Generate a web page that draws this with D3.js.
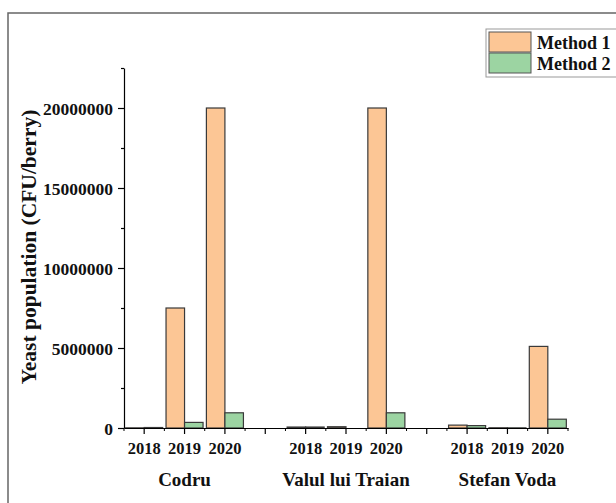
<!DOCTYPE html>
<html><head><meta charset="utf-8">
<script src="https://cdn.jsdelivr.net/npm/d3@7"></script>
<style>body{margin:0;background:#fff;} text{font-family:"Liberation Serif","Times New Roman",serif;font-weight:bold;fill:#111;}</style>
</head><body>
<script>
const sites = ["Codru", "Valul lui Traian", "Stefan Voda"];
const years = ["2018", "2019", "2020"];
const methods = ["Method 1", "Method 2"];
const method1 = [[10000, 7500000, 20000000], [60000, 80000, 20000000], [180000, 15000, 5100000]];
const method2 = [[30000, 350000, 950000], [60000, 0, 950000], [150000, 10000, 550000]];
const yTicks = [0, 5000000, 10000000, 15000000, 20000000];
const yMinor = [2500000, 7500000, 12500000, 17500000, 22500000];
const colors = ["#FCC695", "#9CD4A2"];

(function () {
const W = 616, H = 503;
const svg = d3.select("body").append("svg").attr("width", W).attr("height", H);

// outer frame
svg.append("rect").attr("x", 8).attr("y", 13).attr("width", W).attr("height", H)
  .attr("fill", "none").attr("stroke", "#666").attr("stroke-width", 1.5);

const pl = 124, pr = 568, pt = 68, pb = 428;

// slots: 3 years per site + gap slot between sites
const slots = [];
sites.forEach((s, si) => {
  years.forEach(y => slots.push(s + "|" + y));
  if (si < sites.length - 1) slots.push("gap" + si);
});
const x = d3.scaleBand().domain(slots).range([pl, pr]).paddingInner(0).paddingOuter(0);
const xm = d3.scaleBand().domain(methods).range([0, x.bandwidth()]).paddingInner(0).paddingOuter(0.09);
const y = d3.scaleLinear().domain([0, 22500000]).range([pb, pt]);

const rows = [];
sites.forEach((s, si) => years.forEach((yr, yi) => {
  rows.push({slot: s + "|" + yr, method: methods[0], v: method1[si][yi], c: colors[0]});
  rows.push({slot: s + "|" + yr, method: methods[1], v: method2[si][yi], c: colors[1]});
}));

svg.append("g").selectAll("rect").data(rows).join("rect")
  .attr("x", d => x(d.slot) + xm(d.method))
  .attr("y", d => y(d.v))
  .attr("width", xm.bandwidth())
  .attr("height", d => pb - y(d.v))
  .attr("fill", d => d.c)
  .attr("stroke", "#3a3a3a").attr("stroke-width", 1.2);

// y axis
const yAxis = svg.append("g").attr("transform", `translate(${pl},0)`)
  .call(d3.axisLeft(y).tickValues(yTicks).tickFormat(d3.format("d")).tickSize(6).tickSizeOuter(0).tickPadding(5));
yAxis.selectAll("text").style("font-size", "17.5px").attr("dy", "0.35em");
svg.append("g").attr("transform", `translate(${pl},0)`)
  .call(d3.axisLeft(y).tickValues(yMinor).tickFormat("").tickSize(3).tickSizeOuter(0))
  .select(".domain").remove();

// x axis
const xAxis = svg.append("g").attr("transform", `translate(0,${pb})`)
  .call(d3.axisBottom(x).tickSize(6).tickSizeOuter(0).tickPadding(8)
    .tickFormat(d => d.startsWith("gap") ? "" : d.split("|")[1]));
xAxis.selectAll("text").style("font-size", "16.5px");
// minor ticks at slot boundaries
const bounds = slots.map(s => x(s)).concat([pr]);
svg.append("g").selectAll("line").data(bounds).join("line")
  .attr("x1", d => d).attr("x2", d => d).attr("y1", pb).attr("y2", pb + 3)
  .attr("stroke", "#000");
svg.selectAll(".domain, .tick line").attr("stroke", "#000").attr("stroke-width", 1.2);

// site labels
svg.append("g").selectAll("text").data(sites).join("text")
  .attr("x", s => x(s + "|2019") + x.bandwidth() / 2)
  .attr("y", 485.5).attr("text-anchor", "middle").style("font-size", "19px")
  .text(s => s);

// y title
svg.append("text").attr("transform", `translate(36,247) rotate(-90)`)
  .attr("text-anchor", "middle").style("font-size", "21.5px")
  .text("Yeast population (CFU/berry)");

// legend
const lg = svg.append("g");
lg.append("rect").attr("x", 486).attr("y", 29).attr("width", 135).attr("height", 48)
  .attr("fill", "#fff").attr("stroke", "#999").attr("stroke-width", 1);
methods.forEach((m, i) => {
  lg.append("rect").attr("x", 489).attr("y", 32 + i * 21).attr("width", 42).attr("height", 20)
    .attr("fill", colors[i]).attr("stroke", "#555").attr("stroke-width", 1);
  lg.append("text").attr("x", 537).attr("y", 49 + i * 21).style("font-size", "18px").text(m);
});
})();
</script>
</body></html>
